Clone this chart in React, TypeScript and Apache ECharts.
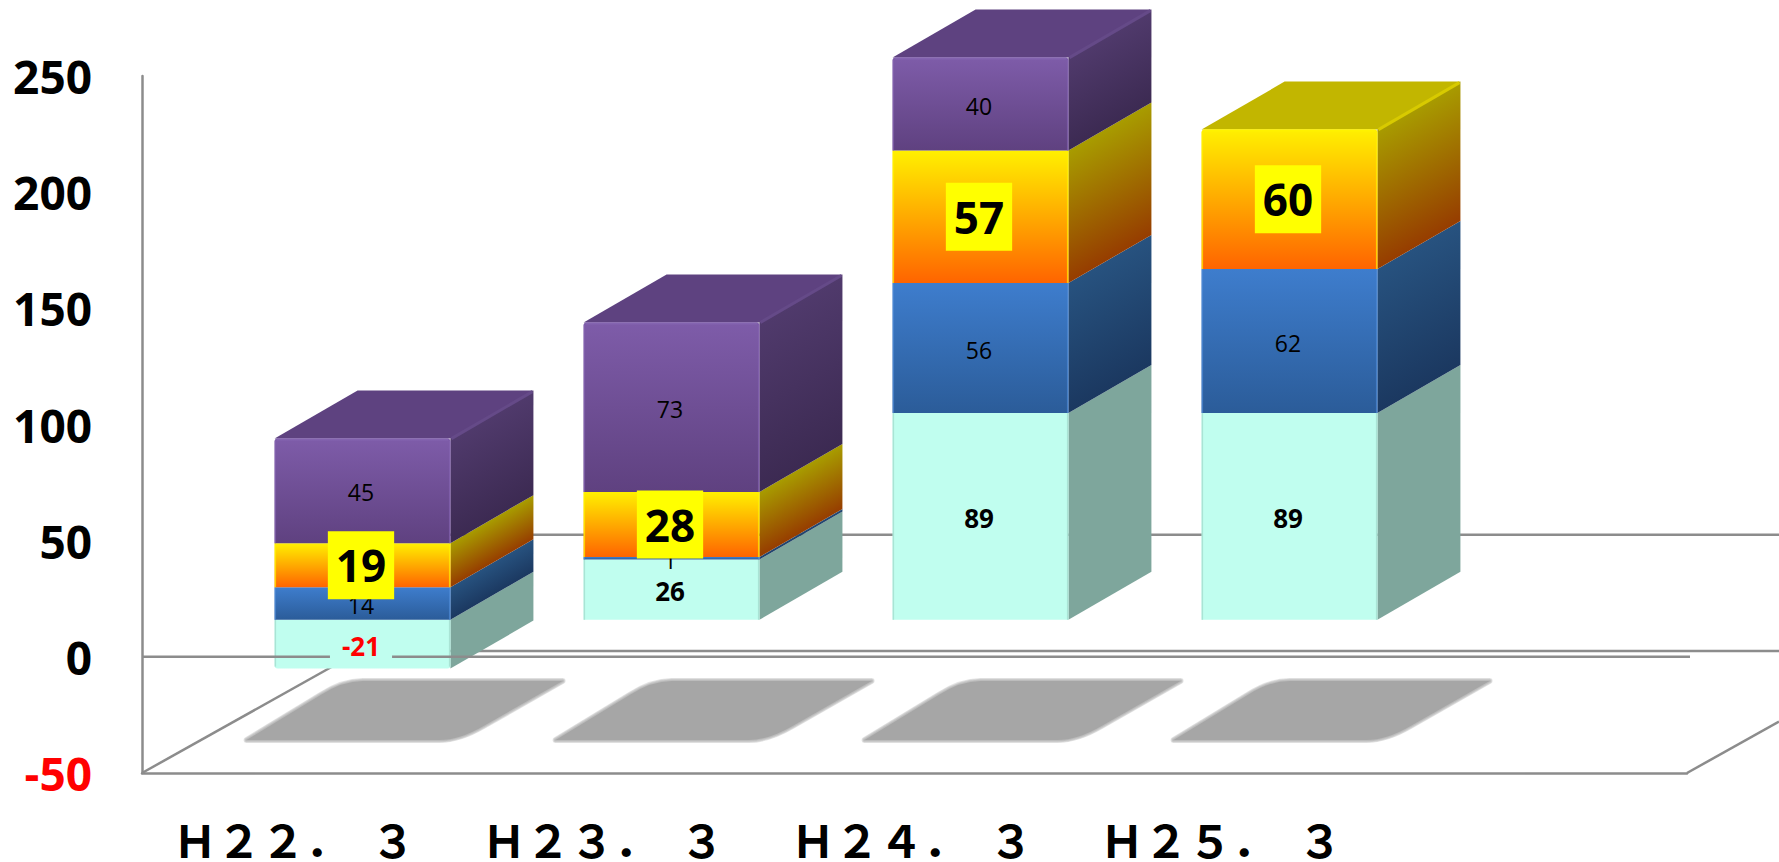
import React, { useEffect, useRef } from "react";
import * as echarts from "echarts";

const categories = ["Ｈ２２．　３", "Ｈ２３．　３", "Ｈ２４．　３", "Ｈ２５．　３", ""];
const mintValues = [-21, 26, 89, 89];
const blueValues = [14, 1, 56, 62];
const yellowValues = [19, 28, 57, 60];
const purpleValues = [45, 73, 40, 0];

const FONT = "'Open Sans', 'Noto Sans', sans-serif";

// projection of the pseudo-3D box, in pixels
const PLANE_DX = 66;
const PLANE_DY = 37;
const DEPTH_X = 83;
const DEPTH_Y = 48;
const BAND_TO_BAR = 0.569;
const BACK_X = 218;
const BACK_Y = 122;
const LINE_COLOR = "#8C8C8C";
const LINE_WIDTH = 2.5;

const looks: any = {
  mint: { front: ["#C0FEEF", "#C0FEEF"], side: ["#7EA69C", "#7EA69C"], top: "#8FBDB1", edge: "#9FD8CB", sideEdge: "#8FBDB1" },
  blue: { front: ["#3E7DCD", "#2B5C99"], side: ["#27527F", "#1B3860"], top: "#2F5F99", edge: "#4F8AD6", sideEdge: "#2F5F99" },
  yellow: { front: ["#FFF000", "#FF6400"], side: ["#A89C00", "#963C00"], top: "#C2B600", edge: "#FFF200", sideEdge: "#D8CA00" },
  purple: { front: ["#7E5CA9", "#5F4180"], side: ["#503A6C", "#3C2A52"], top: "#5E4280", edge: "#8464B0", sideEdge: "#654A88" },
};

function stackRows(values: number[], lower: number[][]) {
  return values.map((v, i) => {
    const base = v < 0 ? 0 : lower.reduce((s, arr) => s + Math.max(arr[i], 0), 0);
    return [i, base, base + v, v];
  });
}

const mintRows = stackRows(mintValues, []);
const blueRows = stackRows(blueValues, [mintValues]);
const yellowRows = stackRows(yellowValues, [mintValues, blueValues]);
const purpleRows = stackRows(purpleValues, [mintValues, blueValues, yellowValues]);

function barGeom(api: any, i: number, low: number, high: number) {
  const band = api.size([1, 0])[0];
  const w = band * BAND_TO_BAR;
  const c = api.coord([i, 0])[0] + PLANE_DX;
  const yLow = api.coord([i, low])[1] - PLANE_DY;
  const yHigh = api.coord([i, high])[1] - PLANE_DY;
  return { c, x0: c - w / 2, x1: c + w / 2, w, yTop: Math.min(yLow, yHigh), yBot: Math.max(yLow, yHigh) };
}

function segmentSeries(name: string, rows: number[][], look: any, above: number[]) {
  return {
    type: "custom",
    name,
    z: 3,
    silent: true,
    data: rows,
    encode: { x: 0, y: [1, 2] },
    renderItem: (_p: any, api: any) => {
      const i = api.value(0);
      const value = api.value(3);
      if (!value) return { type: "group", children: [] };
      const g = barGeom(api, i, api.value(1), api.value(2));
      const h = g.yBot - g.yTop;
      const isTop = !above[i];
      const isBottom = value < 0;
      const children: any[] = [];
      const a = h / 1.325;
      children.push({
        type: "polygon",
        shape: { points: [[g.x1, g.yTop], [g.x1 + DEPTH_X, g.yTop - DEPTH_Y], [g.x1 + DEPTH_X, g.yBot - DEPTH_Y], [g.x1, g.yBot]] },
        style: {
          fill: {
            type: "linear",
            x: g.x1,
            y: g.yTop,
            x2: g.x1 + 0.575 * a,
            y2: g.yTop + a,
            global: true,
            colorStops: [{ offset: 0, color: look.side[0] }, { offset: 1, color: look.side[1] }],
          },
        },
      });
      if (isTop) {
        children.push({
          type: "polygon",
          shape: { points: [[g.x0, g.yTop], [g.x0 + DEPTH_X, g.yTop - DEPTH_Y], [g.x1 + DEPTH_X, g.yTop - DEPTH_Y], [g.x1, g.yTop]] },
          style: { fill: look.top },
        });
        children.push({
          type: "line",
          shape: { x1: g.x1 + 1, y1: g.yTop, x2: g.x1 + DEPTH_X - 1, y2: g.yTop - DEPTH_Y + 1 },
          style: { stroke: look.sideEdge, lineWidth: 3 },
        });
      }
      children.push({
        type: "rect",
        shape: { x: g.x0, y: g.yTop, width: g.w, height: h, r: isTop ? [3, 3, 0, 0] : isBottom ? [0, 0, 3, 3] : 0 },
        style: {
          fill: {
            type: "linear", x: 0, y: 0, x2: 0, y2: 1,
            colorStops: [{ offset: 0, color: look.front[0] }, { offset: 1, color: look.front[1] }],
          },
        },
      });
      if (isTop) {
        children.push({
          type: "line",
          shape: { x1: g.x0 + 2, y1: g.yTop + 1, x2: g.x1 - 2, y2: g.yTop + 1 },
          style: { stroke: look.edge, lineWidth: 2 },
        });
      }
      [g.x0 + 0.75, g.x1 - 0.75].forEach((x) => {
        children.push({
          type: "line",
          shape: { x1: x, y1: g.yTop + (isTop ? 2 : 0), x2: x, y2: g.yBot - (isBottom ? 2 : 0) },
          style: { stroke: look.edge, lineWidth: 1.5, opacity: 0.7 },
        });
      });
      return { type: "group", children };
    },
  };
}

function labelSeries(rows: number[][], kind: "plain" | "bold" | "hilite") {
  return {
    type: "custom",
    z: kind === "hilite" ? 6 : 5,
    silent: true,
    data: rows,
    encode: { x: 0, y: [1, 2] },
    renderItem: (_p: any, api: any) => {
      const value = api.value(3);
      if (!value) return { type: "group", children: [] };
      const g = barGeom(api, api.value(0), api.value(1), api.value(2));
      const style: any = {
        text: String(value),
        x: g.c - 1.5,
        y: (g.yTop + g.yBot) / 2 + (kind === "hilite" ? 0 : 1.5),
        align: "center",
        verticalAlign: "middle",
        fontFamily: FONT,
        fill: "#000",
      };
      if (kind === "plain") {
        style.fontSize = 23;
      } else if (kind === "bold") {
        style.fontSize = 26;
        style.fontWeight = "bold";
        if (value < 0) {
          style.fill = "#FF0000";
          style.backgroundColor = "#C0FEEF";
          style.padding = [4, 12, 4, 12];
        }
      } else {
        style.fontSize = 44;
        style.fontWeight = "bold";
        style.backgroundColor = "#FFFF00";
        style.padding = [12, 8, 12, 8];
      }
      return { type: "text", style };
    },
  };
}

function backdropSeries() {
  return {
    type: "custom",
    z: 1,
    silent: true,
    data: [[0, 0]],
    encode: { x: 0, y: 1 },
    renderItem: (params: any, api: any) => {
      const cs = params.coordSys;
      const left = cs.x;
      const right = cs.x + cs.width;
      const pageRight = api.getWidth();
      const yFloor = api.coord([0, -50])[1];
      const yZero = api.coord([0, 0])[1];
      const line = { stroke: LINE_COLOR, lineWidth: LINE_WIDTH };
      const mk = (x1: number, y1: number, x2: number, y2: number) => ({ type: "line", shape: { x1, y1, x2, y2 }, style: line });
      const children: any[] = [
        mk(left, yFloor, left + BACK_X, yFloor - BACK_Y),
        mk(left + BACK_X, yFloor - BACK_Y, pageRight, yFloor - BACK_Y),
        mk(left + BACK_X, yZero - BACK_Y, pageRight, yZero - BACK_Y),
        mk(right, yFloor, pageRight, yFloor - ((pageRight - right) * BACK_Y) / BACK_X),
      ];
      const top = yFloor - 92;
      const bot = yFloor - 33;
      for (let i = 0; i < 4; i++) {
        const g = barGeom(api, i, 0, 1);
        const tl = g.x0 + 68;
        const tr = g.x0 + 288;
        const bl = g.x0 - 28;
        const br = g.x0 + 185;
        const d = `M${bl} ${bot} L${tl - 22} ${top + 14} Q${tl} ${top} ${tl + 20} ${top} L${tr} ${top} L${br + 24} ${bot - 14} Q${br} ${bot} ${br - 20} ${bot} Z`;
        [6, 4.5, 3, 1.5].forEach((lw) => {
          children.push({
            type: "path",
            shape: { pathData: d },
            style: { fill: "none", stroke: "rgba(166,166,166,0.3)", lineWidth: lw, lineJoin: "round" },
          });
        });
        children.push({ type: "path", shape: { pathData: d }, style: { fill: "#A6A6A6" } });
      }
      return { type: "group", children };
    },
  };
}

function zeroLineSeries() {
  return {
    type: "custom",
    z: 4,
    silent: true,
    data: [[0, 0]],
    encode: { x: 0, y: 1 },
    renderItem: (params: any, api: any) => {
      const cs = params.coordSys;
      const y = api.coord([0, 0])[1];
      return {
        type: "line",
        shape: { x1: cs.x, y1: y, x2: cs.x + cs.width + 3, y2: y },
        style: { stroke: LINE_COLOR, lineWidth: LINE_WIDTH },
      };
    },
  };
}

export default function App() {
  const ref = useRef<HTMLDivElement>(null);
  useEffect(() => {
    const chart = echarts.init(ref.current!, null, { renderer: "svg" });
    chart.setOption({
      animation: false,
      backgroundColor: "#FFFFFF",
      grid: { left: 142, right: 92, top: 76, bottom: 89, containLabel: false },
      xAxis: {
        type: "category",
        data: categories,
        axisTick: { show: false },
        axisLine: { onZero: false, lineStyle: { color: LINE_COLOR, width: LINE_WIDTH } },
        axisLabel: {
          interval: 0,
          margin: 44,
          padding: [0, 5, 0, 0],
          color: "#000",
          fontSize: 44,
          fontWeight: "bold",
          fontFamily: "'Noto Sans CJK JP', sans-serif",
        },
      },
      yAxis: {
        type: "value",
        min: -50,
        max: 250,
        interval: 50,
        splitLine: { show: false },
        axisTick: { show: false },
        axisLine: { show: true, onZero: false, lineStyle: { color: LINE_COLOR, width: LINE_WIDTH } },
        axisLabel: {
          margin: 50,
          fontSize: 46,
          fontWeight: "bold",
          fontFamily: FONT,
          color: (v: any) => (Number(v) < 0 ? "#FF0000" : "#000000"),
        },
      },
      series: [
        backdropSeries(),
        segmentSeries("mint", mintRows, looks.mint, mintValues.map(() => 1)),
        segmentSeries("blue", blueRows, looks.blue, yellowValues),
        segmentSeries("yellow", yellowRows, looks.yellow, purpleValues),
        segmentSeries("purple", purpleRows, looks.purple, purpleValues.map(() => 0)),
        zeroLineSeries(),
        labelSeries(mintRows, "bold"),
        labelSeries(blueRows, "plain"),
        labelSeries(purpleRows, "plain"),
        labelSeries(yellowRows, "hilite"),
      ],
    });
    return () => chart.dispose();
  }, []);
  return <div ref={ref} style={{ position: "fixed", left: 0, top: 0, width: 1779, height: 862 }} />;
}
